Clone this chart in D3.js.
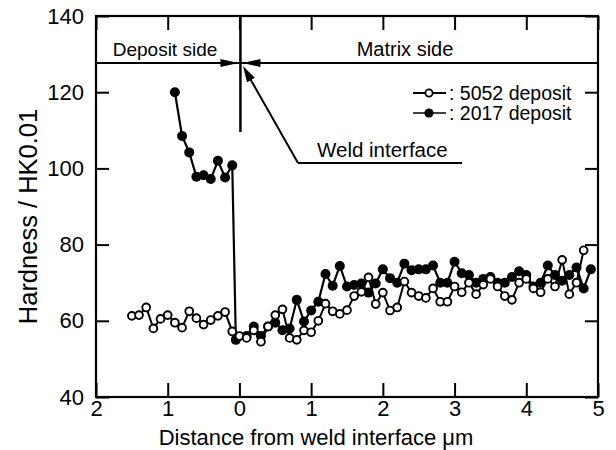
<!DOCTYPE html>
<html><head><meta charset="utf-8">
<script src="https://cdn.jsdelivr.net/npm/d3@7/dist/d3.min.js"></script>
<style>
body{margin:0;background:#fff}
text{font-family:"Liberation Sans",Arial,Helvetica,sans-serif;fill:#000}
</style>
</head><body>
<svg id="chart" width="616" height="450"></svg>
<script>
// ---- data ----
const xTicks = [-2, -1, 0, 1, 2, 3, 4, 5];
const xTickLabels = ["2", "1", "0", "1", "2", "3", "4", "5"];
const yTicks = [40, 60, 80, 100, 120, 140];
const seriesNames = [": 5052 deposit", ": 2017 deposit"];

const dist5052 = [-1.5,-1.4,-1.3,-1.2,-1.1,-1.0,-0.9,-0.8,-0.7,-0.6,-0.5,-0.4,-0.3,-0.2,-0.1,0.0,
  0.1,0.2,0.3,0.4,0.5,0.6,0.7,0.8,0.9,1.0,1.1,1.2,1.3,1.4,1.5,1.6,1.7,1.8,1.9,2.0,
  2.1,2.2,2.3,2.4,2.5,2.6,2.7,2.8,2.9,3.0,3.1,3.2,3.3,3.4,3.5,3.6,3.7,3.8,3.9,4.0,
  4.1,4.2,4.3,4.4,4.5,4.6,4.7,4.8];
const hard5052 = [61.3,61.5,63.5,58,60.5,61.5,59.5,58.2,62.5,60.7,59,60.2,61.3,62.3,57.2,56,
  55.5,57.5,54.5,58.5,61.5,63,55.5,55,57.5,57,60,64.5,62.5,61.8,62.8,66.5,67.6,71.4,64.4,67.4,
  62.7,63.5,70.3,67.4,66.5,66,68.5,65,65,69,67.5,70,67,69.5,71,69,66.5,65.5,70,71,
  68.5,67.5,71,69,76,67,70,78.5];

const dist2017 = [-0.9,-0.8,-0.7,-0.6,-0.5,-0.4,-0.3,-0.2,-0.1,-0.05,
  0.1,0.2,0.3,0.4,0.5,0.6,0.7,0.8,0.9,1.0,1.1,1.2,1.3,1.4,1.5,1.6,1.7,1.8,1.9,2.0,
  2.1,2.2,2.3,2.4,2.5,2.6,2.7,2.8,2.9,3.0,3.1,3.2,3.3,3.4,3.5,3.6,3.7,3.8,3.9,4.0,
  4.1,4.2,4.3,4.4,4.5,4.6,4.7,4.8,4.9];
const hard2017 = [120,108.5,104.2,97.8,98.2,97.2,102,97.6,100.8,55,
  56,58.5,56,58.5,59.5,57.5,58,65.5,59.8,62.7,65,72.3,69.2,74.4,69,69.4,69.8,67.4,69.8,73.5,
  71.2,70,75,73.3,73.5,73.5,74.5,70,70,75.5,72.5,72,70,71,71.5,70,70,71.5,73,72,
  69,70,74.5,72,70.5,72,74,68.5,73.5];

// ---- layout ----
const L = 96, R = 598, T = 16, B = 397;
const svg = d3.select("#chart");
const x = d3.scaleLinear().domain([-2, 5]).range([L, R]);
const y = d3.scaleLinear().domain([40, 140]).range([B, T]);
const tickFmt = d => xTickLabels[xTicks.indexOf(d)];

function styleAxis(g, fs) {
  g.select(".domain").remove();
  g.selectAll(".tick line").attr("stroke", "#000").attr("stroke-width", 2);
  g.selectAll(".tick text").attr("font-size", fs).attr("fill", "#000")
    .style("font-family", '"Liberation Sans", Arial, sans-serif');
}
svg.append("g").attr("transform", `translate(0,${B})`)
  .call(d3.axisBottom(x).tickValues(xTicks).tickFormat(tickFmt).tickSize(-14).tickPadding(3))
  .call(g => styleAxis(g, 22));
svg.append("g").attr("transform", `translate(0,${T})`)
  .call(d3.axisTop(x).tickValues(xTicks).tickFormat("").tickSize(-14))
  .call(g => styleAxis(g, 22));
svg.append("g").attr("transform", `translate(${L},0)`)
  .call(d3.axisLeft(y).tickValues(yTicks).tickSize(-13).tickPadding(12))
  .call(g => styleAxis(g, 22));
svg.append("g").attr("transform", `translate(${R},0)`)
  .call(d3.axisRight(y).tickValues(yTicks).tickFormat("").tickSize(-13))
  .call(g => styleAxis(g, 22));

svg.append("rect").attr("x", L).attr("y", T).attr("width", R - L).attr("height", B - T)
  .attr("fill", "none").attr("stroke", "#000").attr("stroke-width", 2.2);

// axis titles
svg.append("text").attr("x", 316).attr("y", 445).attr("text-anchor", "middle")
  .attr("font-size", 22).text("Distance from weld interface μm");
svg.append("text").attr("transform", `translate(37,${(T + B) / 2 + 10}) rotate(-90)`)
  .attr("text-anchor", "middle").attr("font-size", 25.5).text("Hardness / HK0.01");

// ---- annotations ----
function arrowHead(x1, y1, x2, y2, len, half) {
  const a = Math.atan2(y2 - y1, x2 - x1);
  const bx = x2 - len * Math.cos(a), by = y2 - len * Math.sin(a);
  const px = -Math.sin(a) * half, py = Math.cos(a) * half;
  svg.append("path").attr("d", `M${x2},${y2}L${bx + px},${by + py}L${bx - px},${by - py}Z`).attr("fill", "#000");
}
const ay = 63, x0 = x(0);
svg.append("line").attr("x1", L).attr("x2", R).attr("y1", ay).attr("y2", ay)
  .attr("stroke", "#000").attr("stroke-width", 2);
arrowHead(L, ay, x0 - 1, ay, 18, 4);
arrowHead(R, ay, x0 + 3, ay, 18, 4);
svg.append("line").attr("x1", x0 + 1).attr("x2", x0 + 1).attr("y1", T).attr("y2", 132)
  .attr("stroke", "#000").attr("stroke-width", 2.5);
svg.append("text").attr("x", 165).attr("y", 56).attr("text-anchor", "middle").attr("font-size", 19).text("Deposit side");
svg.append("text").attr("x", 405).attr("y", 56).attr("text-anchor", "middle").attr("font-size", 20).text("Matrix side");

svg.append("line").attr("x1", 298).attr("y1", 163).attr("x2", 462).attr("y2", 163)
  .attr("stroke", "#000").attr("stroke-width", 2);
svg.append("line").attr("x1", 298).attr("y1", 163).attr("x2", 248).attr("y2", 75)
  .attr("stroke", "#000").attr("stroke-width", 2);
arrowHead(298, 163, 243, 66, 16, 4.5);
svg.append("text").attr("x", 317).attr("y", 157).attr("font-size", 20.5).text("Weld interface");

// ---- data marks ----
const line = d3.line().x(d => x(d[0])).y(d => y(d[1]));
const s5052 = dist5052.map((d, i) => [d, hard5052[i]]);
const s2017 = dist2017.map((d, i) => [d, hard2017[i]]);
svg.append("path").datum(s5052).attr("d", line).attr("fill", "none").attr("stroke", "#000").attr("stroke-width", 2);
svg.append("path").datum(s2017).attr("d", line).attr("fill", "none").attr("stroke", "#000").attr("stroke-width", 2.2);
svg.append("g").selectAll("circle").data(s2017).join("circle")
  .attr("cx", d => x(d[0])).attr("cy", d => y(d[1])).attr("r", 5).attr("fill", "#000");
svg.append("g").selectAll("circle").data(s5052).join("circle")
  .attr("cx", d => x(d[0])).attr("cy", d => y(d[1])).attr("r", 3.9)
  .attr("fill", "#fff").attr("stroke", "#000").attr("stroke-width", 1.9);

// ---- legend ----
const leg = [{y: 93, fill: "#fff", r: 3.6, sw: 1.8}, {y: 113, fill: "#000", r: 4.6, sw: 0}];
leg.forEach((l, i) => {
  svg.append("line").attr("x1", 413).attr("x2", 446).attr("y1", l.y).attr("y2", l.y)
    .attr("stroke", "#000").attr("stroke-width", i === 0 ? 2.2 : 1.6);
  svg.append("circle").attr("cx", 429).attr("cy", l.y).attr("r", l.r)
    .attr("fill", l.fill).attr("stroke", "#000").attr("stroke-width", l.sw);
  svg.append("text").attr("x", 449).attr("y", l.y + 7).attr("font-size", 19.5).text(seriesNames[i]);
});
</script>
</body></html>
